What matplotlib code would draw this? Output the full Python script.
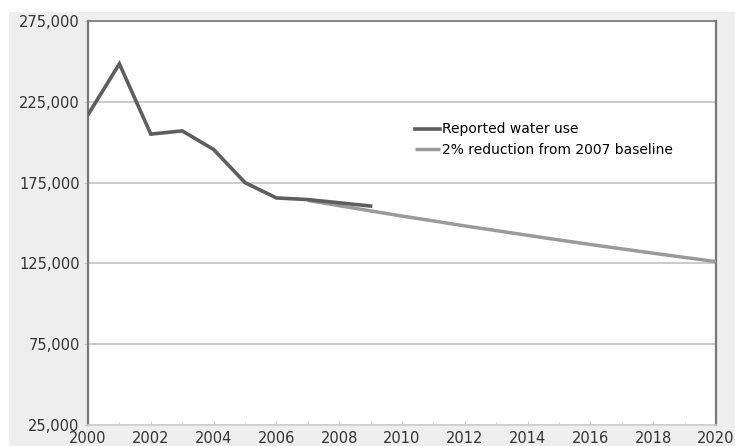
import matplotlib.pyplot as plt
from matplotlib.patches import Rectangle
from matplotlib.ticker import FuncFormatter, MultipleLocator

# reported water use
years = [2000, 2001, 2002, 2003, 2004, 2005, 2006, 2007, 2008, 2009]
reported = [217000, 248500, 205000, 207000, 195500, 175000, 165500, 164500, 162500, 160500]

# 2% per year reduction from 2007 baseline
target_years = [2007, 2008, 2009, 2010, 2011, 2012, 2013, 2014,
                2015, 2016, 2017, 2018, 2019, 2020]
target = [164000, 160700, 157500, 154300, 151300, 148200, 145300, 142400,
          139500, 136700, 134000, 131300, 128700, 126100]

y_ticks = [25000, 75000, 125000, 175000, 225000, 275000]
x_ticks = [2000, 2002, 2004, 2006, 2008, 2010, 2012, 2014, 2016, 2018, 2020]

W, H = 735, 446
fig = plt.figure(figsize=(W/100, H/100), dpi=100, facecolor='white')
# grey panel behind the chart
fig.patches.append(Rectangle((9/W, 0), 1, 1 - 12/H, transform=fig.transFigure,
                             facecolor='#eeeeee', edgecolor='none', zorder=-10))

ax = fig.add_axes([88/W, 21/H, 628/W, 404/H])
ax.set_facecolor('white')

ax.plot(target_years, target, color='#9a9a9a', lw=2.5, solid_capstyle='butt',
        label='2% reduction from 2007 baseline', zorder=3)
ax.plot(years, reported, color='#5e5e5e', lw=2.6, solid_joinstyle='miter',
        label='Reported water use', zorder=4)

ax.set_xlim(2000, 2020)
ax.set_ylim(25000, 275000)
ax.set_yticks(y_ticks)
ax.set_xticks(x_ticks)
ax.xaxis.set_minor_locator(MultipleLocator(1))
ax.yaxis.set_major_formatter(FuncFormatter(lambda v, p: f'{int(v):,}'))
ax.grid(axis='y', color='#bdbdbd', lw=1.1)
ax.set_axisbelow(True)

for s in ['left', 'right', 'top']:
    ax.spines[s].set_color('#777777')
    ax.spines[s].set_linewidth(1.6)
ax.spines['top'].set_linewidth(1.2)
ax.spines['bottom'].set_color('#cfcfcf')
ax.spines['bottom'].set_linewidth(1.2)
ax.tick_params(axis='both', labelsize=10.5, colors='#333333', length=3, width=0.8)
ax.tick_params(axis='x', which='both', color='#cccccc', direction='in', pad=4)
ax.tick_params(axis='y', color='#cccccc', pad=3)

h, l = ax.get_legend_handles_labels()
ax.legend(h[::-1], l[::-1], loc='upper left', bbox_to_anchor=(0.5, 0.78),
          frameon=False, fontsize=10, handlelength=1.8, handletextpad=0.2,
          labelspacing=0.45)

fig.savefig('out.png', dpi=100, facecolor=fig.get_facecolor())
